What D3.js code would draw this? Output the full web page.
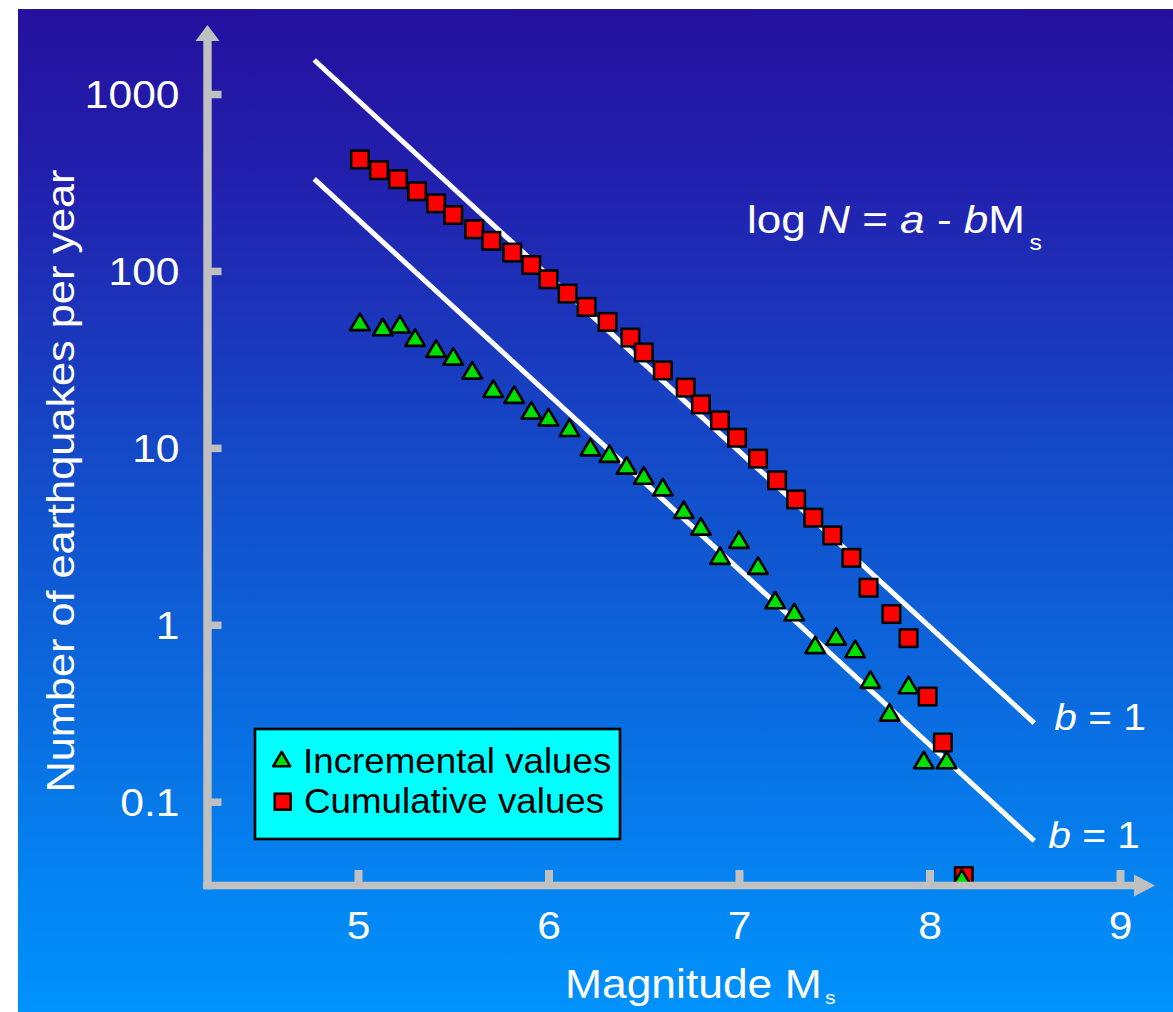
<!DOCTYPE html>
<html>
<head>
<meta charset="utf-8">
<title>Earthquakes per year vs magnitude</title>
<script src="https://cdn.jsdelivr.net/npm/d3@7"></script>
<style>
	body { margin:0; background:#ffffff; }
	svg { display:block; }
	text { white-space:pre; }
</style>
</head>
<body>
<div id="chart"></div>
<script>
// -----------------------------------------------------------------
// Values
var magnitudeTicks = [5, 6, 7, 8, 9];
var countTicks = [0.1, 1, 10, 100, 1000];

var incrementalMag = [5.01,5.13,5.22,5.30,5.41,5.50,5.60,5.71,5.82,5.91,6.00,6.11,6.22,6.32,6.41,6.50,6.60,
	6.71,6.80,6.90,7.00,7.10,7.19,7.29,7.40,7.51,7.61,7.69,7.79,7.89,7.97,8.09,8.17];
var incrementalCount = [51.5,48.2,50.0,42.0,36.4,32.9,27.4,21.6,20.0,16.3,14.9,13.0,10.1,9.27,7.96,6.98,6.00,
	4.47,3.60,2.46,3.03,2.16,1.38,1.18,0.77,0.86,0.73,0.49,0.32,0.457,0.172,0.172,0.037];

var cumulativeMag = [5.01,5.11,5.21,5.31,5.41,5.50,5.61,5.70,5.81,5.91,6.00,6.10,6.20,6.31,6.43,6.50,6.60,
	6.72,6.80,6.90,6.99,7.10,7.20,7.30,7.39,7.49,7.59,7.68,7.80,7.89,7.99,8.07,8.18];
var cumulativeCount = [427,371,330,282,241,207,172,148,127,108,89.7,74.5,62.6,51.5,42.0,34.6,27.4,
	21.9,17.6,14.3,11.4,8.69,6.55,5.11,4.03,3.20,2.39,1.62,1.15,0.84,0.393,0.216,0.038];

// b = 1 reference lines, end points as [magnitude, count]
var upperLineEnds = [[4.77,1557],[8.55,0.278]];
var lowerLineEnds = [[4.77,331],[8.55,0.060]];
var lineLabels = ['b = 1','b = 1'];

var legendLabels = ['Incremental values','Cumulative values'];

;(function(){
	var W = 1173, H = 1012;
	var font = '"Liberation Sans", Arial, Helvetica, sans-serif';
	var stretch = 1.12; // the white lettering is wider than Arial
	var axisGrey = '#c0c0c0';

	var svg = d3.select('#chart')
		.append('svg')
		.attr('width',W)
		.attr('height',H);

	// -----------------------------------------------------------------
	// Background
	var grad = svg.append('defs')
		.append('linearGradient')
		.attr('id','bgGrad')
		.attr('gradientUnits','userSpaceOnUse')
		.attr('x1',0).attr('y1',9)
		.attr('x2',0).attr('y2',H);
	[
		[0,'#25109e']
		,[0.17,'#2220ae']
		,[0.45,'#144ac8']
		,[0.7,'#0a6ce0']
		,[0.88,'#0485f2']
		,[1,'#0092fd']
	].forEach(function(s){
		grad.append('stop').attr('offset',s[0]).attr('stop-color',s[1]);
	});

	svg.append('rect')
		.attr('x',18)
		.attr('y',9)
		.attr('width',W-18)
		.attr('height',H-9)
		.attr('fill','url(#bgGrad)');

	// -----------------------------------------------------------------
	// Scales
	var x = d3.scaleLinear().domain([5,9]).range([358,1120]);
	var y = d3.scaleLog().domain([0.1,1000]).range([801.7,94]);

	// -----------------------------------------------------------------
	// b = 1 lines
	var line = d3.line()
		.x(function(d){ return x(d[0]); })
		.y(function(d){ return y(d[1]); });

	var fitLines = [upperLineEnds, lowerLineEnds];
	var labelOffsets = [[20,7],[14,7]];

	svg.append('g')
		.selectAll('path')
		.data(fitLines)
		.join('path')
		.attr('d',line)
		.attr('fill','none')
		.attr('stroke','#ffffff')
		.attr('stroke-width',5);

	var bLabels = svg.append('g')
		.selectAll('text')
		.data(fitLines)
		.join('text')
		.attr('transform',function(d,i){
			var end = d[d.length-1];
			return 'translate(' + (x(end[0])+labelOffsets[i][0]) + ',' + (y(end[1])+labelOffsets[i][1]) + ') scale(1.1,1)';
		})
		.attr('font-family',font)
		.attr('font-size',37)
		.attr('fill','#ffffff');
	bLabels.each(function(d,i){
		var parts = lineLabels[i].split(' ');
		var t = d3.select(this);
		t.append('tspan').attr('font-style','italic').text(parts[0]);
		t.append('tspan').text(' ' + parts.slice(1).join(' '));
	});

	// -----------------------------------------------------------------
	// Markers
	var cumulative = cumulativeMag.map(function(m,i){ return {m:m, n:cumulativeCount[i]}; });
	var incremental = incrementalMag.map(function(m,i){ return {m:m, n:incrementalCount[i]}; });

	var sq = 17.5;
	svg.append('g')
		.selectAll('rect')
		.data(cumulative)
		.join('rect')
		.attr('x',function(d){ return x(d.m)-sq/2; })
		.attr('y',function(d){ return y(d.n)-sq/2; })
		.attr('width',sq)
		.attr('height',sq)
		.attr('fill','#ff0000')
		.attr('stroke','#000000')
		.attr('stroke-width',2.5);

	function trianglePath(w,h){
		return 'M0,' + (-h/2) + 'L' + (w/2) + ',' + (h/2) + 'L' + (-w/2) + ',' + (h/2) + 'Z';
	};

	svg.append('g')
		.selectAll('path')
		.data(incremental)
		.join('path')
		.attr('d',trianglePath(19.5,16.5))
		.attr('transform',function(d){ return 'translate(' + x(d.m) + ',' + y(d.n) + ')'; })
		.attr('fill','#00e000')
		.attr('stroke','#000000')
		.attr('stroke-width',2.6)
		.attr('stroke-linejoin','round');

	// -----------------------------------------------------------------
	// Axes (drawn over the markers, as in the figure)
	var axisX = 207.5, axisY = 885.5;

	svg.append('rect')
		.attr('x',axisX-4.2)
		.attr('y',40)
		.attr('width',8.4)
		.attr('height',axisY+3.8-40)
		.attr('fill',axisGrey);
	svg.append('path')
		.attr('d','M' + axisX + ',25L' + (axisX+12) + ',41L' + (axisX-12) + ',41Z')
		.attr('fill',axisGrey);

	svg.append('rect')
		.attr('x',axisX-4.2)
		.attr('y',axisY-3.8)
		.attr('width',1135-(axisX-4.2))
		.attr('height',7.6)
		.attr('fill',axisGrey);
	svg.append('path')
		.attr('d','M1155,' + axisY + 'L1134,' + (axisY-11) + 'L1134,' + (axisY+11) + 'Z')
		.attr('fill',axisGrey);

	var yAxis = d3.axisLeft(y)
		.tickValues(countTicks)
		.tickFormat(function(d){ return String(d); })
		.tickSizeInner(-14)
		.tickSizeOuter(0);

	var gy = svg.append('g')
		.attr('transform','translate(' + axisX + ',0)')
		.call(yAxis);
	gy.select('.domain').remove();
	gy.selectAll('.tick line')
		.attr('stroke',axisGrey)
		.attr('stroke-width',7.5);
	gy.selectAll('.tick text')
		.attr('x',0)
		.attr('dy','0.36em')
		.attr('transform','translate(-28,0) scale(' + stretch + ',1)')
		.attr('text-anchor','end')
		.attr('font-family',font)
		.attr('font-size',38)
		.attr('fill','#ffffff');

	var xAxis = d3.axisBottom(x)
		.tickValues(magnitudeTicks)
		.tickFormat(d3.format('d'))
		.tickSizeInner(-15.5)
		.tickSizeOuter(0);

	var gx = svg.append('g')
		.attr('transform','translate(0,' + axisY + ')')
		.call(xAxis);
	gx.select('.domain').remove();
	gx.selectAll('.tick line')
		.attr('stroke',axisGrey)
		.attr('stroke-width',8);
	gx.selectAll('.tick text')
		.attr('y',54)
		.attr('dy',null)
		.attr('transform','scale(' + stretch + ',1)')
		.attr('text-anchor','middle')
		.attr('font-family',font)
		.attr('font-size',38)
		.attr('fill','#ffffff');

	// -----------------------------------------------------------------
	// Axis titles
	var xTitle = svg.append('text')
		.attr('transform','translate(565,998) scale(1.11,1)')
		.attr('font-family',font)
		.attr('font-size',40)
		.attr('fill','#ffffff');
	xTitle.append('tspan').text('Magnitude M');
	xTitle.append('tspan').attr('font-size',19).attr('dx',3).attr('dy',6).text('s');

	svg.append('text')
		.attr('transform','translate(73.5,481) rotate(-90) scale(1.11,1)')
		.attr('text-anchor','middle')
		.attr('font-family',font)
		.attr('font-size',39)
		.attr('fill','#ffffff')
		.text('Number of earthquakes per year');

	// -----------------------------------------------------------------
	// Equation
	var eq = svg.append('text')
		.attr('transform','translate(747,233) scale(1.13,1)')
		.attr('font-family',font)
		.attr('font-size',39)
		.attr('fill','#ffffff');
	eq.append('tspan').text('log ');
	eq.append('tspan').attr('font-style','italic').text('N');
	eq.append('tspan').text(' = ');
	eq.append('tspan').attr('font-style','italic').text('a');
	eq.append('tspan').text(' - ');
	eq.append('tspan').attr('font-style','italic').text('b');
	eq.append('tspan').text('M');
	eq.append('tspan').attr('font-size',22).attr('dx',4).attr('dy',17).text('s');

	// -----------------------------------------------------------------
	// Legend
	var legend = svg.append('g');
	legend.append('rect')
		.attr('x',255)
		.attr('y',729)
		.attr('width',365)
		.attr('height',110)
		.attr('fill','#00ffff')
		.attr('stroke','#000000')
		.attr('stroke-width',2.6);

	legend.append('path')
		.attr('d',trianglePath(17,14.5))
		.attr('transform','translate(281.7,759)')
		.attr('fill','#00e000')
		.attr('stroke','#000000')
		.attr('stroke-width',2.5)
		.attr('stroke-linejoin','round');
	legend.append('rect')
		.attr('x',282.7-8)
		.attr('y',801.7-8)
		.attr('width',16)
		.attr('height',16)
		.attr('fill','#ff0000')
		.attr('stroke','#000000')
		.attr('stroke-width',2.5);

	legend.selectAll('text.lbl')
		.data(legendLabels)
		.join('text')
		.attr('class','lbl')
		.attr('transform',function(d,i){ return 'translate(' + (303+i) + ',' + (773+i*40) + ') scale(1.05,1)'; })
		.attr('font-family',font)
		.attr('font-size',35)
		.attr('fill','#000000')
		.text(function(d){ return d; });
})();
</script>
</body>
</html>
